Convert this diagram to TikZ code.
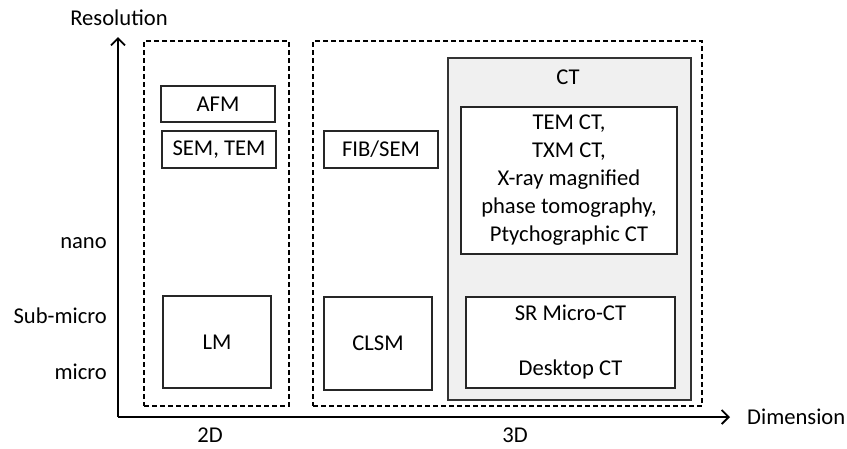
\documentclass[tikz,border=0pt]{standalone}
\usepackage{fontspec}
\setmainfont{Carlito}
\usetikzlibrary{arrows.meta}
\tikzset{
  box/.style={draw=black!85, line width=1.7pt, inner sep=0pt, outer sep=0pt, align=center},
  group/.style={draw=black, line width=2pt, dash pattern=on 5pt off 3pt, inner sep=0pt},
  ctbox/.style={draw=black!80, line width=1.7pt, fill=black!6, inner sep=0pt},
  lbl/.style={inner sep=0pt, font=\fontsize{22.6}{28}\selectfont},
  axis/.style={line width=2.2pt, -{Straight Barb[length=7pt,width=14pt,line width=1.8pt]}}
}
\begin{document}
\begin{tikzpicture}[x=1pt,y=-1pt, every node/.style={font=\fontsize{22.6}{28}\selectfont}]
\useasboundingbox (0,0) rectangle (847,448);
% groups
\node[group, minimum width=145pt, minimum height=365pt] (g2d) at (216.5,223.5) {};
\node[group, minimum width=389pt, minimum height=365pt] (g3d) at (507.5,223.5) {};
% CT area
\node[ctbox, minimum width=243pt, minimum height=342pt] (ct) at (569.5,229) {};
\node[lbl] (ctl) at (568,77) {CT};
% boxes
\node[box, minimum width=114pt, minimum height=36pt] (afm) at (218,104) {AFM};
\node[box, minimum width=114pt, minimum height=37pt] (sem) at (219,149.5) {SEM, TEM};
\node[box, minimum width=108pt, minimum height=92pt] (lm) at (217,342) {LM};
\node[box, minimum width=114pt, minimum height=37pt] (fib) at (381,149.5) {FIB/SEM};
\node[box, minimum width=108pt, minimum height=93pt] (clsm) at (378,343.5) {CLSM};
\node[box, fill=white, minimum width=216pt, minimum height=147pt] (tem) at (569,180.5) {TEM CT,\\TXM CT,\\X-ray magnified\\phase tomography,\\Ptychographic CT};
\node[box, fill=white, minimum width=209pt, minimum height=91pt] (sr) at (570.5,342.5) {SR Micro-CT\\[27pt]Desktop CT};
% axes
\coordinate (o) at (118,417);
\coordinate (ytip) at (118,37);
\coordinate (xtip) at (730,417);
\draw[axis] (o) -- (ytip);
\draw[axis] (o) -- (xtip);
\node[lbl] (res) at (119,18) {Resolution};
\node[lbl, anchor=west] (dim) at (747,417) {Dimension};
\node[lbl, anchor=east] (nano) at (107,243) {nano};
\node[lbl, anchor=east] (sub) at (107,316) {Sub-micro};
\node[lbl, anchor=east] (mic) at (107,372) {micro};
\node[lbl] (d2) at (210,435.5) {2D};
\node[lbl] (d3) at (515,435.5) {3D};
\end{tikzpicture}
\end{document}
